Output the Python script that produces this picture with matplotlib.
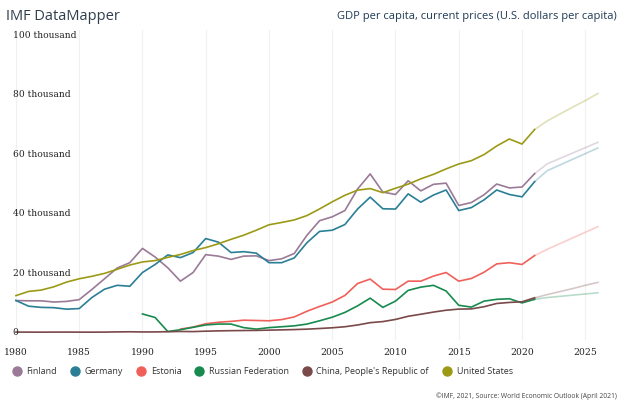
import matplotlib
matplotlib.use("Agg")
import matplotlib.pyplot as plt
from matplotlib.lines import Line2D
import numpy as np

# GDP per capita, thousands of US dollars (IMF WEO April 2021)
names = ["Finland", "Germany", "Estonia", "Russian Federation",
         "China, People's Republic of", "United States"]
colors = ["#9a7a96", "#2a7f96", "#f0605a", "#178a4e", "#7a4949", "#9c9a15"]

start_years = [1980, 1980, 1993, 1990, 1980, 1980]

finland = [10.9, 10.8, 10.8, 10.4, 10.6, 11.2, 14.6, 18.2, 21.8, 23.6,
           28.4, 25.5, 21.9, 17.4, 20.3, 26.3, 25.8, 24.7, 25.8, 25.9,
           24.3, 24.9, 26.7, 32.8, 37.7, 39.0, 41.1, 48.3, 53.4, 47.3,
           46.5, 51.1, 47.7, 49.9, 50.3, 42.8, 43.8, 46.4, 50.0, 48.7,
           49.0, 53.5]
germany = [10.9, 9.0, 8.6, 8.5, 8.0, 8.2, 11.9, 14.7, 16.0, 15.7,
           20.3, 23.0, 26.2, 25.3, 27.0, 31.7, 30.5, 27.0, 27.3, 26.8,
           23.6, 23.6, 25.2, 30.3, 34.1, 34.5, 36.4, 41.6, 45.6, 41.7,
           41.6, 46.7, 43.9, 46.3, 48.0, 41.1, 42.1, 44.7, 48.0, 46.5,
           45.7, 50.8]
estonia = [1.3, 2.0, 3.1, 3.6, 3.9, 4.3, 4.2,
           4.1, 4.5, 5.4, 7.3, 8.9, 10.4, 12.6, 16.6, 18.1, 14.7,
           14.6, 17.4, 17.4, 19.1, 20.3, 17.4, 18.3, 20.4, 23.2, 23.6,
           23.0, 26.0]
russia = [6.4, 5.2, 0.5, 1.1, 1.9, 2.7, 3.0, 3.0, 1.8, 1.3,
          1.8, 2.1, 2.4, 3.0, 4.1, 5.3, 6.9, 9.1, 11.7, 8.6,
          10.7, 14.3, 15.4, 16.0, 14.1, 9.3, 8.7, 10.7, 11.3, 11.5,
          10.1, 11.3]
china = [0.31, 0.29, 0.28, 0.30, 0.31, 0.29, 0.28, 0.30, 0.37, 0.41,
         0.35, 0.36, 0.42, 0.52, 0.47, 0.61, 0.71, 0.78, 0.83, 0.87,
         0.96, 1.05, 1.15, 1.29, 1.51, 1.75, 2.10, 2.69, 3.47, 3.83,
         4.55, 5.61, 6.30, 7.02, 7.64, 8.02, 8.09, 8.82, 9.91, 10.26,
         10.48, 11.82]
usa = [12.55, 13.95, 14.41, 15.51, 17.09, 18.20, 19.03, 20.00, 21.38, 22.81,
       23.85, 24.30, 25.39, 26.36, 27.67, 28.67, 29.95, 31.44, 32.83, 34.50,
       36.32, 37.10, 37.95, 39.41, 41.64, 44.03, 46.22, 47.94, 48.47, 47.10,
       48.59, 49.97, 51.74, 53.25, 55.08, 56.73, 57.84, 59.89, 62.77, 65.12,
       63.42, 68.31]

# projections 2021-2026
proj_years = [2021, 2022, 2023, 2024, 2025, 2026]
finland_proj = [53.5, 56.8, 58.6, 60.4, 62.2, 64.0]
germany_proj = [50.8, 54.5, 56.4, 58.3, 60.2, 62.1]
estonia_proj = [26.0, 28.1, 30.0, 31.9, 33.8, 35.7]
russia_proj = [11.3, 11.9, 12.3, 12.7, 13.1, 13.5]
china_proj = [11.8, 12.9, 13.9, 14.9, 16.0, 17.0]
usa_proj = [68.3, 71.2, 73.5, 75.8, 78.0, 80.4]

hist = [finland, germany, estonia, russia, china, usa]
proj = [finland_proj, germany_proj, estonia_proj, russia_proj, china_proj, usa_proj]

xticks = [1980, 1985, 1990, 1995, 2000, 2005, 2010, 2015, 2020, 2025]
yticks = [0, 20, 40, 60, 80, 100]
ylabels = ["0", "20 thousand", "40 thousand", "60 thousand", "80 thousand", "100 thousand"]

W, H = 623, 407
fig = plt.figure(figsize=(W / 100, H / 100), dpi=100)
ax = fig.add_axes([10 / W, (H - 340) / H, 595 / W, 310 / H])
ax.set_xlim(1979.53, 2026.56)
ax.set_ylim(-2.35, 101.7)

for s in ax.spines.values():
    s.set_visible(False)

for x in xticks:
    ax.axvline(x, color="#f0f0f0", lw=0.8, zorder=0)

for vals, pv, c, y0 in zip(hist, proj, colors, start_years):
    yrs = np.arange(y0, y0 + len(vals))
    ax.plot(yrs, vals, color=c, lw=1.2, zorder=3)
    ax.plot(proj_years, pv, color=c, lw=1.2, alpha=0.3, zorder=2)

ax.set_xticks(xticks)
ax.set_xticklabels([str(x) for x in xticks], family="DejaVu Serif",
                   fontsize=6.7, color="#222222")
ax.tick_params(axis="x", length=0, pad=6)
ax.set_yticks([])

for v, lab in zip(yticks, ylabels):
    ax.text(1979.75, v, lab, family="DejaVu Serif", fontsize=6.6,
            color="#222222", ha="left", va="center", zorder=4)

fig.text(6 / W, 1 - 16 / H, "IMF DataMapper", family="Open Sans",
         fontsize=10.5, color="#2f3e4e", ha="left", va="center")
fig.text(617 / W, 1 - 17 / H,
         "GDP per capita, current prices (U.S. dollars per capita)",
         family="Open Sans", fontsize=8.0, color="#1f3a55", ha="right", va="center")

handles = [Line2D([], [], ls="none", marker="o", ms=6.5, color=c) for c in colors]
fig.legend(handles, names, loc="center left", bbox_to_anchor=(9 / W, 1 - 372 / H),
           ncol=6, frameon=False, handletextpad=0.55, columnspacing=1.5,
           handlelength=1.0, borderaxespad=0, prop={"family": "Open Sans", "size": 6.5},
           labelcolor="#333333")

fig.text(617 / W, 1 - 396 / H,
         "\u00a9IMF, 2021, Source: World Economic Outlook (April 2021)",
         family="Open Sans", fontsize=4.9, color="#444444", ha="right", va="center")

fig.savefig("out.png", dpi=100)
